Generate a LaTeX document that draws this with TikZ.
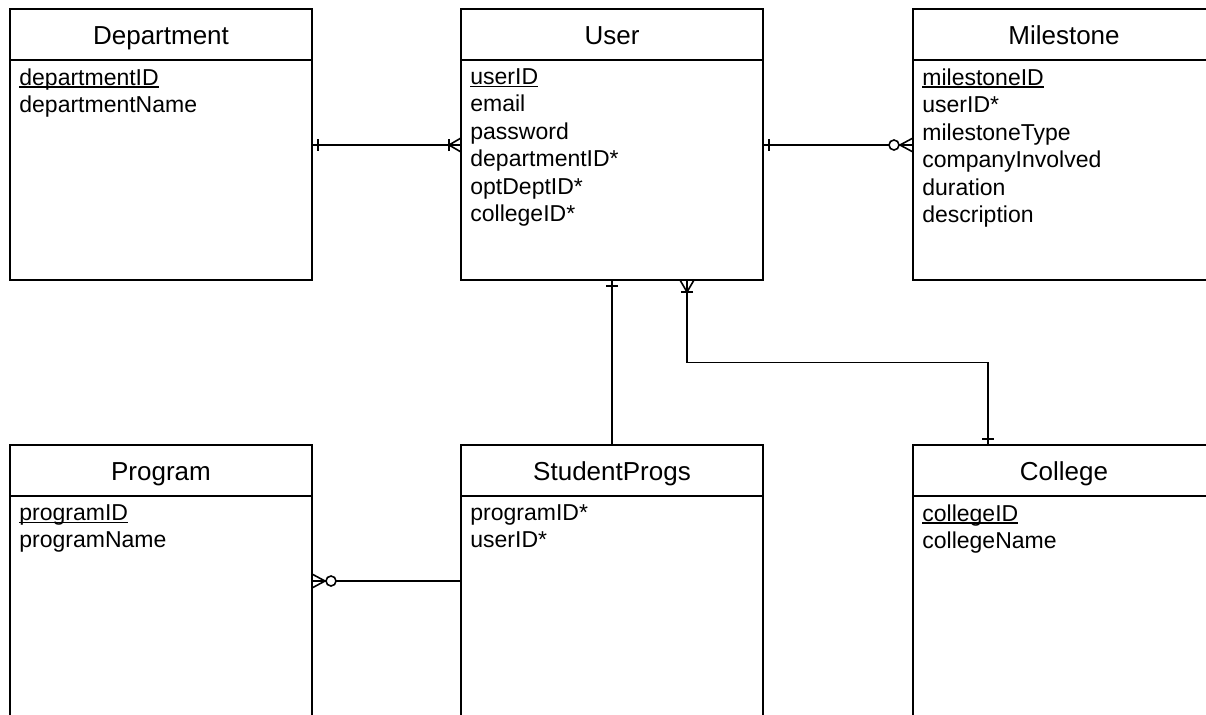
\documentclass[tikz,border=0pt]{standalone}
\usepackage{fontspec}
\setmainfont{Liberation Sans}
\usetikzlibrary{positioning,calc}

% key attribute: underline close to the baseline
\newlength{\pkwidth}
\newcommand{\pk}[1]{\settowidth{\pkwidth}{#1}\rlap{\rule[-1.3pt]{\pkwidth}{0.6pt}}#1}
% entity box: name, centre x, centre y, title, attributes
\newcommand{\entity}[5]{%
    \node[entity] (#1) at (#2,#3) {#4};
    \node[entbody, below=0pt of #1] (#1-b) {};
    \node[attrs] (#1-a) at ($(#1-b.north west)+(9,8)$) {#5};
}

\tikzset{
    entity/.style={draw, line width=0.8pt, minimum width=151pt, minimum height=25.5pt,
        inner sep=0pt, outer sep=0pt, text height=10.8pt, text depth=1.2pt,
        font=\fontsize{13}{15}\selectfont},
    entbody/.style={draw, line width=0.8pt, minimum width=151pt, minimum height=110pt,
        inner sep=0pt, outer sep=0pt},
    attrs/.style={anchor=north west, align=left, inner sep=0pt,
        font=\fontsize{11.5}{13.75}\selectfont},
    rel/.style={line width=0.8pt},
    % crow's foot ends (local x points away from the entity)
    crowone/.pic={\draw[rel] (6,-6) -- (6,6);},
    crowmany/.pic={\draw[rel] (12,-6) -- (12,6);
        \draw[rel] (0,-7) -- (12,0) -- (0,7);},
    crowzero/.pic={\draw[rel] (0,-7) -- (13,0) -- (0,7);
        \draw[rel, fill=white] (19,0) circle[radius=5];},
}

\begin{document}
\begin{tikzpicture}[x=0.5pt, y=-0.5pt]
    \useasboundingbox (0,0) rectangle (1206,714);
    \clip (0,0) rectangle (1206,714);

    % Entities
    \entity{dept}{161}{34.5}{Department}{\pk{departmentID}\\departmentName}
    \entity{user}{612}{34.5}{User}{\pk{userID}\\email\\password\\departmentID*\\optDeptID*\\collegeID*}
    \entity{mile}{1064}{34.5}{Milestone}{\pk{milestoneID}\\userID*\\milestoneType\\companyInvolved\\duration\\description}
    \entity{prog}{161}{470.5}{Program}{\pk{programID}\\programName}
    \entity{sp}{612}{470.5}{StudentProgs}{programID*\\userID*}
    \entity{coll}{1064}{470.5}{College}{\pk{collegeID}\\collegeName}

    % Department -- User
    \draw[rel] (dept-b.east |- 0,145) coordinate (d1) -- (user-b.west |- 0,145) coordinate (u1);
    \pic at (d1) {crowone};
    \pic[rotate=180] at (u1) {crowmany};

    % User -- Milestone
    \draw[rel] (user-b.east |- 0,145) coordinate (u2) -- (mile-b.west |- 0,145) coordinate (m1);
    \pic at (u2) {crowone};
    \pic[rotate=180] at (m1) {crowzero};

    % User -- StudentProgs
    \draw[rel] (user-b.south) -- (sp.north);
    \pic[rotate=-90] at (user-b.south) {crowone};

    % User -- College
    \coordinate (u4) at ($(user-b.south)+(75,0)$);
    \coordinate (c1) at ($(coll.north)+(-76,0)$);
    \draw[rel] (u4) |- ($(u4)!0.5!(c1)$) -| (c1);
    \pic[rotate=-90] at (u4) {crowmany};
    \pic[rotate=90] at (c1) {crowone};

    % Program -- StudentProgs
    \draw[rel] (prog-b.east |- 0,581) coordinate (p1) -- (sp-b.west |- 0,581);
    \pic at (p1) {crowzero};

\end{tikzpicture}
\end{document}
